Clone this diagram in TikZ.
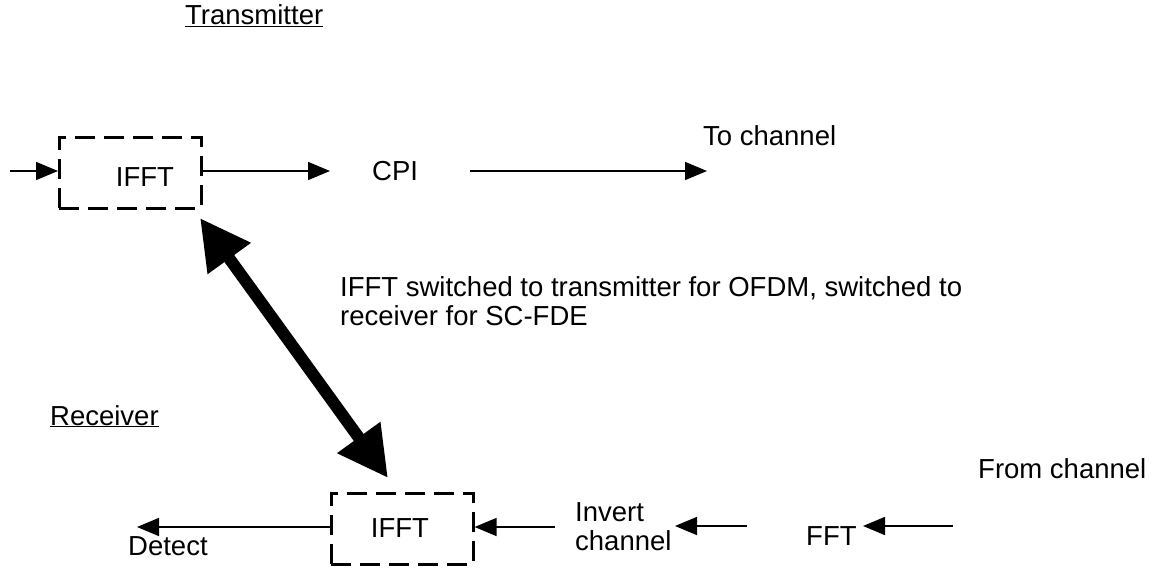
\documentclass[tikz,border=0pt]{standalone}
\usepackage{fontspec}
\setmainfont{Liberation Sans}
\usetikzlibrary{arrows.meta,calc}
\begin{document}
\begin{tikzpicture}[x=1pt,y=-1pt,
  every node/.style={font=\fontsize{27.5}{33}\selectfont, inner sep=0pt},
  dbox/.style={draw, dash pattern=on 20pt off 9pt, line width=2.6pt, minimum width=142pt, minimum height=71pt, anchor=north west},
  flow/.style={line width=1.6pt, -{Triangle[length=22pt,width=18pt]}},
  big/.style={line width=12pt, {Triangle[length=50pt,width=50pt]}-{Triangle[length=50pt,width=50pt]}},
  lbl/.style={anchor=base west}]
\useasboundingbox (0,0) rectangle (1154,569);
% Transmitter
\node[lbl] (tx) at (185,25) {\underline{Transmitter}};
\node[dbox] (ifftT) at (58,136) {};
\node[anchor=base] (ifftTt) at (145,187) {IFFT};
\coordinate (inT) at (10,171);
\draw[flow] (inT) -- (ifftT.west |- inT);
\node[lbl] (cpi) at (372,181) {CPI};
\coordinate (cpiIn) at (330,171);
\draw[flow] (ifftT.east |- inT) -- (cpiIn);
\coordinate (cpiOut) at (470,171);
\coordinate (toCh) at (707,171);
\draw[flow] (cpiOut) -- (toCh);
\node[lbl] (toch) at (703,146) {To channel};
% switch arrow
\coordinate (bigA) at (200,218);
\coordinate (bigB) at (388,478);
\draw[big] (bigA) -- (bigB);
\node[lbl] (note1) at (340,297) {IFFT switched to transmitter for OFDM, switched to};
\node[lbl] (note2) at (340,326) {receiver for SC-FDE};
% Receiver
\node[lbl] (rx) at (50,425) {\underline{Receiver}};
\node[dbox] (ifftR) at (330,492) {};
\node[anchor=base] (ifftRt) at (400,537) {IFFT};
\coordinate (det) at (137,527);
\draw[flow] (ifftR.west |- det) -- (det);
\node[lbl] (detect) at (128,555) {Detect};
\coordinate (invOut) at (555,527);
\draw[flow] (invOut) -- (ifftR.east |- det);
\node[lbl] (inv1) at (575,521) {Invert};
\node[lbl] (inv2) at (575,550) {channel};
\coordinate (fftOut) at (747,526);
\coordinate (invIn) at (675,526);
\draw[flow] (fftOut) -- (invIn);
\node[lbl] (fft) at (806,545) {FFT};
\coordinate (chIn) at (953,526);
\coordinate (fftIn) at (863,526);
\draw[flow] (chIn) -- (fftIn);
\node[lbl] (fromch) at (978,478) {From channel};
\end{tikzpicture}
\end{document}
